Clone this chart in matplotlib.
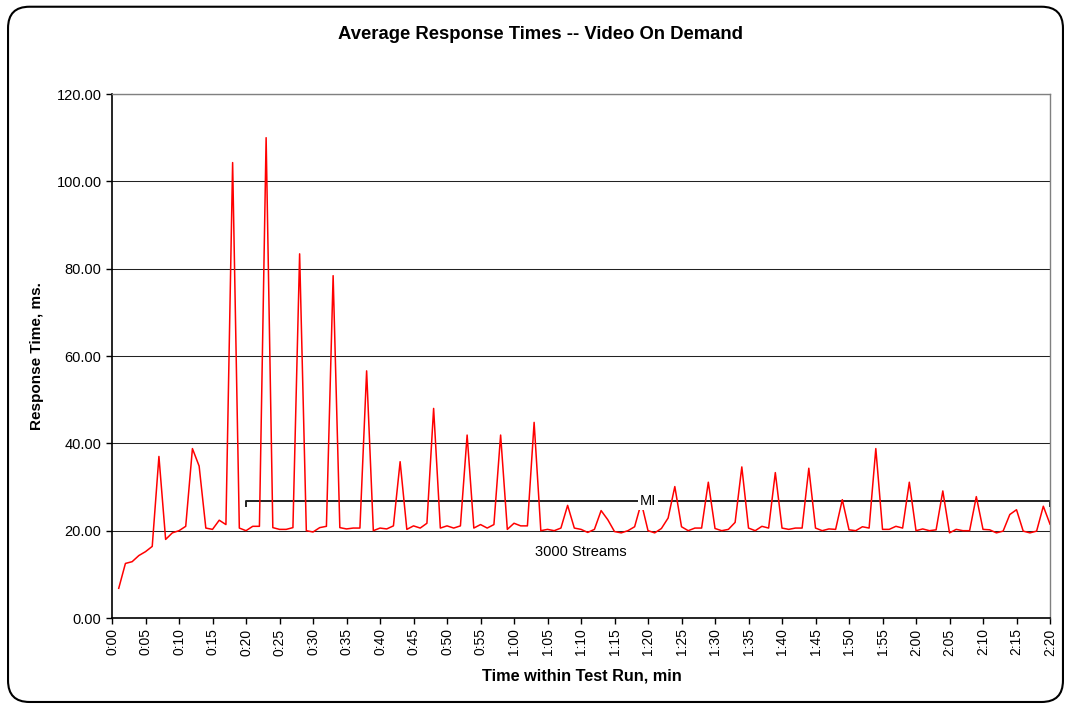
import matplotlib
matplotlib.use("Agg")
import matplotlib.pyplot as plt
from matplotlib.patches import FancyBboxPatch

plt.rcParams['font.family'] = ['Liberation Sans', 'DejaVu Sans']

# minutes within the test run (1..140) and average response time (ms)
minutes = list(range(1, 141))
response_ms = [
    6.8, 12.5, 12.9, 14.3, 15.2, 16.4, 37.0, 18.0, 19.5, 20.0,
    21.0, 38.8, 34.8, 20.6, 20.3, 22.4, 21.4, 104.3, 20.6, 20.0,
    21.0, 21.0, 110.0, 20.7, 20.3, 20.3, 20.7, 83.4, 20.0, 19.7,
    20.7, 21.0, 78.4, 20.7, 20.4, 20.6, 20.6, 56.6, 20.0, 20.6,
    20.4, 21.1, 35.8, 20.3, 21.1, 20.6, 21.7, 48.0, 20.6, 21.1,
    20.6, 21.1, 41.9, 20.6, 21.4, 20.6, 21.4, 41.9, 20.3, 21.7,
    21.1, 21.1, 44.8, 20.0, 20.3, 20.0, 20.6, 25.8, 20.6, 20.3,
    19.6, 20.3, 24.6, 22.5, 19.8, 19.5, 20.0, 20.9, 26.4, 20.0,
    19.5, 20.5, 22.9, 30.1, 20.9, 20.0, 20.6, 20.6, 31.1, 20.5,
    20.0, 20.3, 21.9, 34.6, 20.6, 20.0, 21.0, 20.6, 33.3, 20.6,
    20.3, 20.6, 20.6, 34.3, 20.6, 20.0, 20.4, 20.3, 27.1, 20.2,
    20.0, 20.9, 20.6, 38.8, 20.3, 20.3, 21.0, 20.6, 31.1, 20.0,
    20.4, 20.0, 20.2, 29.1, 19.5, 20.3, 20.0, 20.0, 27.8, 20.3,
    20.2, 19.5, 19.9, 23.7, 24.8, 19.9, 19.5, 19.9, 25.6, 21.5,
]

# measurement interval bracket
mi_start, mi_end, mi_level = 20, 140, 26.8
tick_minutes = list(range(0, 141, 5))
tick_labels = [f"{m // 60}:{m % 60:02d}" for m in tick_minutes]
y_ticks = [0, 20, 40, 60, 80, 100, 120]

fig = plt.figure(figsize=(10.71, 7.08), dpi=100)
fig.patch.set_facecolor('white')

# rounded outer frame
frame = FancyBboxPatch((0.0075, 0.0085), 0.985, 0.982,
                       boxstyle="round,pad=0,rounding_size=0.02",
                       transform=fig.transFigure, fc='none', ec='black',
                       lw=1.5, mutation_aspect=1071 / 708)
fig.patches.append(frame)

ax = fig.add_axes([0.1046, 0.1271, 0.8758, 0.7401])
ax.set_xlim(0, 140)
ax.set_ylim(0, 120)

ax.yaxis.grid(True, color='#222222', lw=0.75)
ax.set_axisbelow(True)

ax.plot([mi_start, mi_start, mi_end, mi_end],
        [mi_level - 1.2, mi_level, mi_level, mi_level - 1.2],
        color='#222222', lw=1.4, zorder=2)
ax.plot(minutes, response_ms, color='#ff0000', lw=1.1, zorder=3)

ax.text(80, mi_level, "MI", ha='center', va='center', fontsize=10.5,
        zorder=4, bbox=dict(fc='white', ec='none', pad=1.5))
ax.text(70, 15.1, "3000 Streams", ha='center', va='center', fontsize=10.5)

ax.set_xticks(tick_minutes)
ax.set_xticklabels(tick_labels, rotation=90, fontsize=10)
ax.set_yticks(y_ticks)
ax.set_yticklabels([f"{v:.2f}" for v in y_ticks], fontsize=10.5)
ax.tick_params(axis='both', direction='out', length=4, width=1, color='black')

for side in ('top', 'right'):
    ax.spines[side].set_color('#808080')
    ax.spines[side].set_linewidth(1.0)
for side in ('left', 'bottom'):
    ax.spines[side].set_color('black')
    ax.spines[side].set_linewidth(1.2)

fig.text(0.505, 0.951, "Average Response Times -- Video On Demand",
         ha='center', va='center', fontsize=13.3, weight='bold')
fig.text(0.543, 0.045, "Time within Test Run, min",
         ha='center', va='center', fontsize=11.7, weight='bold')
fig.text(0.035, 0.497, "Response Time, ms.", rotation=90,
         ha='center', va='center', fontsize=11, weight='bold')

fig.savefig("out.png", dpi=100, facecolor='white')
